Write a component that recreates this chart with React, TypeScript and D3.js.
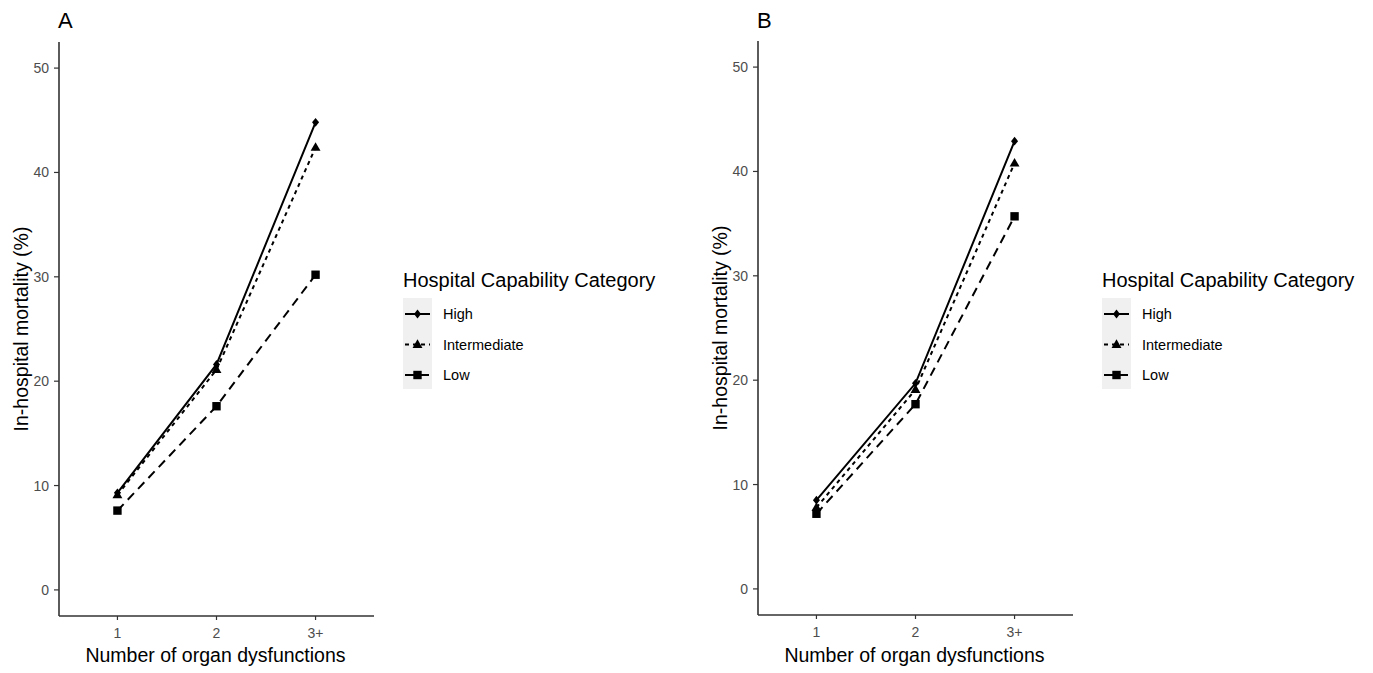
import React from "react";
import * as d3 from "d3";

const categories = ["1", "2", "3+"];
const seriesNames = ["High", "Intermediate", "Low"];
const yTicks = [0, 10, 20, 30, 40, 50];

const panelA_high = [9.3, 21.6, 44.8];
const panelA_intermediate = [9.1, 21.1, 42.4];
const panelA_low = [7.6, 17.6, 30.2];

const panelB_high = [8.5, 19.7, 42.9];
const panelB_intermediate = [7.8, 19.1, 40.8];
const panelB_low = [7.2, 17.7, 35.7];

const lineDash: Record<string, string> = { High: "none", Intermediate: "4,4", Low: "9,6" };
const FONT = "'Liberation Sans', Arial, sans-serif";

function Marker({ name, x, y, s = 1 }: { name: string; x: number; y: number; s?: number }) {
  if (name === "High") {
    const r = 4.4 * s;
    return <path d={`M${x},${y - r}L${x + r * 0.8},${y}L${x},${y + r}L${x - r * 0.8},${y}Z`} fill="#000" />;
  }
  if (name === "Intermediate") {
    const r = 5.2 * s;
    return <path d={`M${x},${y - r}L${x + r * 0.95},${y + r * 0.65}L${x - r * 0.95},${y + r * 0.65}Z`} fill="#000" />;
  }
  const h = 4.2 * s;
  return <rect x={x - h} y={y - h} width={2 * h} height={2 * h} fill="#000" />;
}

function Panel({ left, top, bottom, label, data }: { left: number; top: number; bottom: number; label: string; data: number[][] }) {
  const width = 315;
  const x = d3.scalePoint<string>().domain(categories).range([left, left + width]).padding(0.59);
  const y = d3.scaleLinear().domain([-2.5, 52.5]).range([bottom, top]);
  const line = d3
    .line<number>()
    .x((_, i) => x(categories[i]) as number)
    .y((d) => y(d));
  const legX = left + 344;
  const legTop = 298;
  return (
    <g>
      <text x={left - 1} y={28} fontSize={22} fontFamily={FONT} fill="#000">{label}</text>
      {data.map((vals, si) => (
        <path key={si} d={line(vals) as string} fill="none" stroke="#000" strokeWidth={2} strokeDasharray={lineDash[seriesNames[si]]} />
      ))}
      {data.map((vals, si) =>
        vals.map((v, i) => <Marker key={si + "-" + i} name={seriesNames[si]} x={x(categories[i]) as number} y={y(v)} />)
      )}
      <line x1={left} x2={left} y1={top} y2={bottom} stroke="#333" strokeWidth={1.6} />
      <line x1={left} x2={left + width} y1={bottom} y2={bottom} stroke="#333" strokeWidth={1.6} />
      {yTicks.map((t) => (
        <g key={t}>
          <line x1={left - 5} x2={left} y1={y(t)} y2={y(t)} stroke="#333" strokeWidth={1.2} />
          <text x={left - 10} y={y(t)} dy="0.36em" textAnchor="end" fontSize={14} fontFamily={FONT} fill="#4d4d4d">{t}</text>
        </g>
      ))}
      {categories.map((c) => (
        <g key={c}>
          <line x1={x(c) as number} x2={x(c) as number} y1={bottom} y2={bottom + 4} stroke="#333" strokeWidth={1.2} />
          <text x={x(c) as number} y={bottom + 22} textAnchor="middle" fontSize={14} fontFamily={FONT} fill="#4d4d4d">{c}</text>
        </g>
      ))}
      <text x={left + width / 2 - 1} y={662} textAnchor="middle" fontSize={19.5} fontFamily={FONT} fill="#000">Number of organ dysfunctions</text>
      <text transform={`translate(${left - 31},${(top + bottom) / 2}) rotate(-90)`} textAnchor="middle" fontSize={19.5} fontFamily={FONT} fill="#000">In-hospital mortality (%)</text>
      <text x={legX} y={287} fontSize={20} fontFamily={FONT} fill="#000">Hospital Capability Category</text>
      <rect x={legX} y={legTop} width={29} height={91} fill="#f0f0f0" />
      {seriesNames.map((n, i) => {
        const cy = legTop + 16 + i * 30.5;
        return (
          <g key={n}>
            <line x1={legX + 2} x2={legX + 27} y1={cy} y2={cy} stroke="#000" strokeWidth={2} strokeDasharray={lineDash[n]} />
            <Marker name={n} x={legX + 14.5} y={cy} />
            <text x={legX + 40} y={cy} dy="0.36em" fontSize={14.5} fontFamily={FONT} fill="#000">{n}</text>
          </g>
        );
      })}
    </g>
  );
}

export default function App() {
  return (
    <svg width={1373} height={673} style={{ position: "absolute", left: 0, top: 0, background: "#fff" }}>
      <rect width={1373} height={673} fill="#fff" />
      <Panel left={59} top={42} bottom={616} label="A" data={[panelA_high, panelA_intermediate, panelA_low]} />
      <Panel left={758} top={41} bottom={615} label="B" data={[panelB_high, panelB_intermediate, panelB_low]} />
    </svg>
  );
}
